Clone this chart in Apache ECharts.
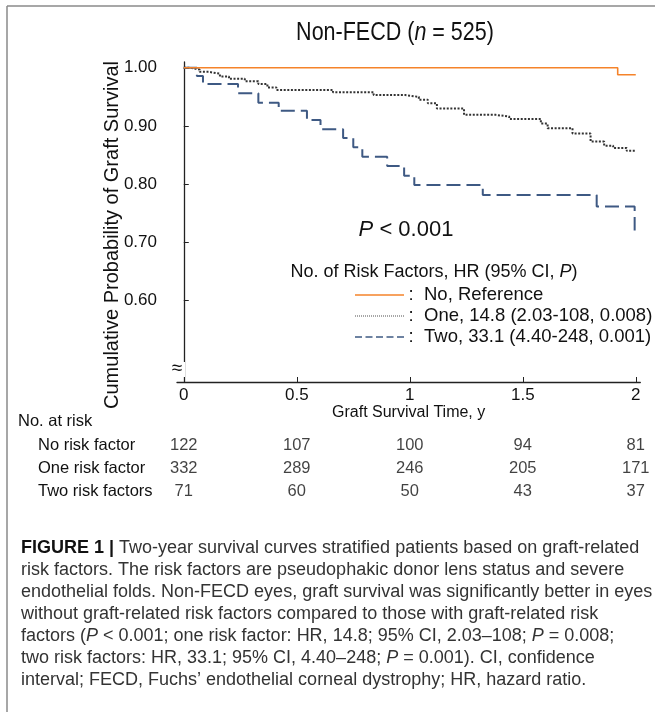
<!DOCTYPE html>
<html>
<head>
<meta charset="utf-8">
<script src="https://cdn.jsdelivr.net/npm/echarts@6/dist/echarts.min.js"></script>
<style>
  html, body { margin: 0; padding: 0; background: #fff; }
  #chart { width: 655px; height: 712px; }
</style>
</head>
<body>
<div id="chart"></div>
<script>
// tick positions (years) and survival ticks
var years = [0, 0.5, 1, 1.5, 2];
var survTicks = [0.6, 0.7, 0.8, 0.9, 1.0];

// Kaplan-Meier curves, [time in years, survival]
var curveNone = [[0, 1], [1.92, 0.988], [2.0, 0.988]];
var curveOne = [[0, 1], [0.03, 0.997], [0.07, 0.993], [0.11, 0.99], [0.16, 0.985], [0.2, 0.981],
  [0.27, 0.977], [0.33, 0.972], [0.37, 0.966], [0.41, 0.962], [0.66, 0.958], [0.84, 0.953],
  [0.98, 0.95], [1.04, 0.945], [1.08, 0.939], [1.12, 0.93], [1.24, 0.919], [1.38, 0.916],
  [1.44, 0.912], [1.58, 0.904], [1.61, 0.896], [1.72, 0.887], [1.8, 0.873], [1.86, 0.866],
  [1.9, 0.862], [1.96, 0.857], [2.0, 0.857]];
var curveTwo = [[0, 1], [0.058, 0.986], [0.085, 0.972], [0.24, 0.956], [0.33, 0.94], [0.42, 0.926],
  [0.545, 0.91], [0.605, 0.894], [0.705, 0.879], [0.75, 0.863], [0.79, 0.847], [0.9, 0.831],
  [0.975, 0.814], [1.02, 0.798], [1.323, 0.781], [1.827, 0.761], [1.995, 0.72]];

// number at risk table
var riskRows = ['No risk factor', 'One risk factor', 'Two risk factors'];
var atRiskNone = [122, 107, 100, 94, 81];
var atRiskOne = [332, 289, 246, 205, 171];
var atRiskTwo = [71, 60, 50, 43, 37];

var legendNames = ['No, Reference', 'One, 14.8 (2.03-108, 0.008)', 'Two, 33.1 (4.40-248, 0.001)'];

var SANS = "'Liberation Sans', Arial, sans-serif";
var ORANGE = '#f5832a', DOTC = '#333333', BLUE = '#3e5983';

var tableData = [];
[atRiskNone, atRiskOne, atRiskTwo].forEach(function (arr, r) {
  arr.forEach(function (n, i) { tableData.push([years[i], riskRows[r], n]); });
});

var chart = echarts.init(document.getElementById('chart'));

function txt(x, y, text, size, extra) {
  var st = { text: text, fontSize: size, fontFamily: SANS, fill: '#111',
    textAlign: 'left', textVerticalAlign: 'middle' };
  for (var k in extra) st[k] = extra[k];
  return { type: 'text', x: x, y: y, z: 50, style: st };
}

var caption =
  '{b|FIGURE 1 |} Two-year survival curves stratified patients based on graft-related\n' +
  'risk factors. The risk factors are pseudophakic donor lens status and severe\n' +
  'endothelial folds. Non-FECD eyes, graft survival was significantly better in eyes\n' +
  'without graft-related risk factors compared to those with graft-related risk\n' +
  'factors ({i|P} < 0.001; one risk factor: HR, 14.8; 95% CI, 2.03\u2013108; {i|P} = 0.008;\n' +
  'two risk factors: HR, 33.1; 95% CI, 4.40\u2013248; {i|P} = 0.001). CI, confidence\n' +
  'interval; FECD, Fuchs\u2019 endothelial corneal dystrophy; HR, hazard ratio.';

var capSize = 18, capLH = 22;

var option = {
  animation: false,
  backgroundColor: '#fff',
  grid: [
    { left: 177, top: 62, width: 463.3, height: 320 },
    { left: 177, top: 434, width: 463.3, height: 69 }
  ],
  xAxis: [{
    type: 'value', gridIndex: 0, min: -0.03, max: 2.02,
    axisLine: { lineStyle: { color: '#222', width: 1.3 } },
    axisTick: { inside: true, length: 5, customValues: years, lineStyle: { color: '#222' } },
    axisLabel: { customValues: years, margin: 5, fontSize: 17, fontFamily: SANS, color: '#111',
      formatter: function (v) { return String(v); } },
    splitLine: { show: false },
    name: 'Graft Survival Time, y', nameLocation: 'middle', nameGap: 16,
    nameTextStyle: { fontSize: 16, fontFamily: SANS, color: '#111' }
  }, {
    type: 'value', gridIndex: 1, min: -0.03, max: 2.02, show: false
  }],
  yAxis: [{
    type: 'value', gridIndex: 0, min: 0.459, max: 1.01,
    axisLine: { show: true, lineStyle: { color: '#222', width: 1.3 } },
    axisTick: { show: true, inside: true, length: 5, customValues: survTicks, lineStyle: { color: '#222' } },
    axisLabel: { customValues: survTicks, margin: 20, fontSize: 17, fontFamily: SANS, color: '#111',
      padding: [17, 0, 0, 0],
      formatter: function (v) { return v.toFixed(2); } },
    splitLine: { show: false }
  }, {
    type: 'category', gridIndex: 1, data: riskRows, inverse: true,
    axisLine: { show: false }, axisTick: { show: false }, splitLine: { show: false },
    axisLabel: { interval: 0, align: 'left', margin: 139, fontSize: 16.5, fontFamily: SANS, color: '#111' }
  }],
  series: [
    { type: 'line', step: 'end', data: curveNone, showSymbol: false, symbol: 'none',
      lineStyle: { color: ORANGE, width: 1.6 }, z: 3 },
    { type: 'line', step: 'end', data: curveOne, showSymbol: false, symbol: 'none',
      lineStyle: { color: DOTC, width: 2, type: [2, 1.6] }, z: 2 },
    { type: 'line', step: 'end', data: curveTwo, showSymbol: false, symbol: 'none',
      lineStyle: { color: BLUE, width: 2, type: [14, 6] }, z: 2 },
    { type: 'scatter', xAxisIndex: 1, yAxisIndex: 1, data: tableData, symbolSize: 1,
      itemStyle: { color: 'rgba(0,0,0,0)' },
      label: { show: true, position: 'inside', fontSize: 16.5, fontFamily: SANS, color: '#111',
        formatter: function (p) { return String(p.value[2]); } } }
  ],
  graphic: [
    // figure frame
    { type: 'line', shape: { x1: 7, y1: 6, x2: 655, y2: 6 }, style: { stroke: '#8a8a8a', lineWidth: 1.5 } },
    { type: 'line', shape: { x1: 7, y1: 6, x2: 7, y2: 712 }, style: { stroke: '#8a8a8a', lineWidth: 1.5 } },
    // title (condensed look)
    { type: 'text', x: 395, y: 33, scaleX: 0.86, style: {
        text: '{a|Non-FECD (}{i|n}{a| = 525)}', textAlign: 'center', textVerticalAlign: 'middle',
        rich: { a: { fontSize: 25, fontFamily: SANS, fill: '#111' },
                i: { fontSize: 25, fontFamily: SANS, fontStyle: 'italic', fill: '#111' } } } },
    // y axis title
    { type: 'text', x: 112, y: 235, rotation: Math.PI / 2, style: {
        text: 'Cumulative Probability of Graft Survival', fontSize: 20, fontFamily: SANS, fill: '#111',
        textAlign: 'center', textVerticalAlign: 'middle' } },
    // axis break
    { type: 'rect', shape: { x: 170, y: 362, width: 15, height: 15 }, style: { fill: '#fff' }, z: 40 },
    txt(177, 369, '\u2248', 19, { textAlign: 'center' }),
    // p value
    { type: 'text', x: 406, y: 230, z: 50, style: {
        text: '{i|P}{a| < 0.001}', textAlign: 'center', textVerticalAlign: 'middle',
        rich: { a: { fontSize: 22, fontFamily: SANS, fill: '#111' },
                i: { fontSize: 22, fontFamily: SANS, fontStyle: 'italic', fill: '#111' } } } },
    // legend
    { type: 'text', x: 434, y: 272, z: 50, style: {
        text: '{a|No. of Risk Factors, HR (95% CI, }{i|P}{a|)}', textAlign: 'center', textVerticalAlign: 'middle',
        rich: { a: { fontSize: 18, fontFamily: SANS, fill: '#111' },
                i: { fontSize: 18, fontFamily: SANS, fontStyle: 'italic', fill: '#111' } } } },
    { type: 'line', shape: { x1: 355, y1: 295, x2: 404, y2: 295 }, style: { stroke: ORANGE, lineWidth: 1.6 } },
    { type: 'line', shape: { x1: 355, y1: 316, x2: 404, y2: 316 }, style: { stroke: '#8a8a8a', lineWidth: 1.5, lineDash: [1, 1] } },
    { type: 'line', shape: { x1: 355, y1: 337, x2: 404, y2: 337 }, style: { stroke: BLUE, lineWidth: 1.6, lineDash: [7, 3.5] } },
    txt(411, 295, ':', 18.5, { textAlign: 'center' }),
    txt(411, 316, ':', 18.5, { textAlign: 'center' }),
    txt(411, 337, ':', 18.5, { textAlign: 'center' }),
    txt(424, 295, legendNames[0], 18.5),
    txt(424, 316, legendNames[1], 18.5),
    txt(424, 337, legendNames[2], 18.5),
    // at risk header
    txt(18, 421, 'No. at risk', 16.5),
    // caption
    { type: 'text', x: 21, y: 537, z: 50, style: {
        text: caption, fontSize: capSize, fontFamily: SANS, fill: '#333', lineHeight: capLH,
        textAlign: 'left', textVerticalAlign: 'top',
        rich: { b: { fontSize: capSize, fontFamily: SANS, fontWeight: 'bold', fill: '#111', lineHeight: capLH },
                i: { fontSize: capSize, fontFamily: SANS, fontStyle: 'italic', fill: '#333', lineHeight: capLH } } } }
  ]
};

chart.setOption(option);
</script>
</body>
</html>
